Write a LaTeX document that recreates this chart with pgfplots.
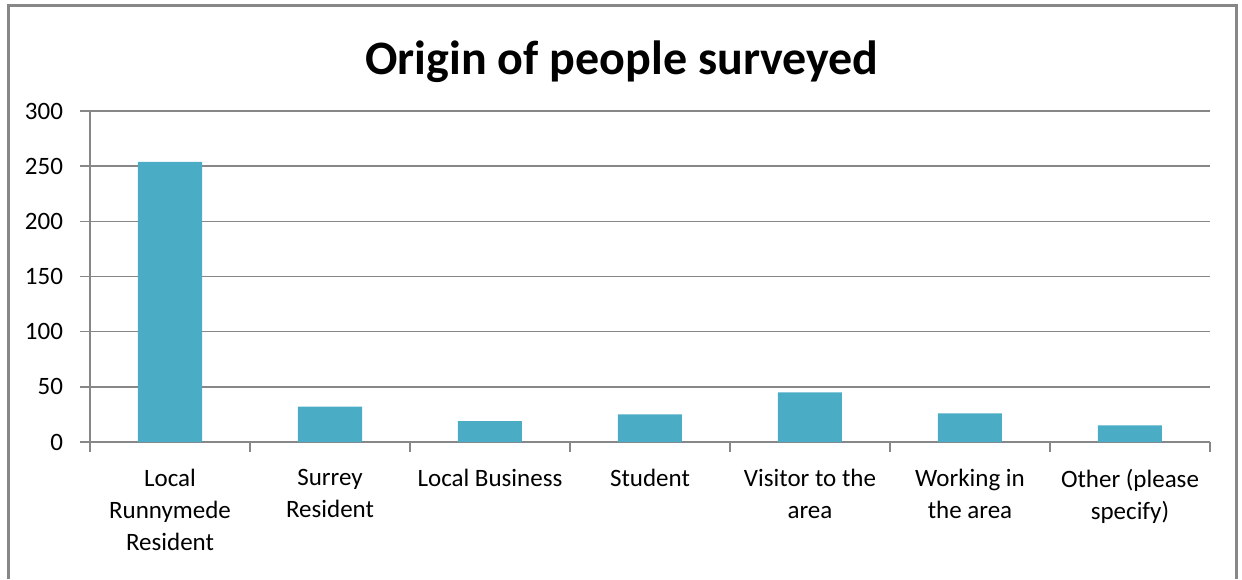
\documentclass[border=0pt]{standalone}
\usepackage{fontspec}
\setmainfont{Carlito}
\usepackage{pgfplots}
\pgfplotsset{compat=1.18}
\definecolor{barc}{HTML}{4BACC6}
\definecolor{gr}{HTML}{878787}
\begin{document}
\begin{tikzpicture}
\path[use as bounding box] (0,0) rectangle (621pt,289.5pt);
\draw[gr, line width=1.5pt] (4.25pt,0) -- (4.25pt,286.5pt) -- (618.25pt,286.5pt) -- (618.25pt,0);
\node[font=\fontsize{24}{28}\selectfont\bfseries, anchor=base] at (311pt,252pt) {Origin of people surveyed};
\begin{axis}[
  at={(45pt,68.5pt)}, anchor=south west,
  scale only axis, width=560pt, height=165.5pt,
  xmin=-0.5, xmax=6.5, ymin=0, ymax=300,
  ytick={0,50,...,300},
  xtick={-0.5,0.5,...,6.5}, xticklabels={},
  extra x ticks={0,1,2,3,4,5,6},
  extra x tick labels={Local\\Runnymede\\Resident, Surrey\\Resident, Local Business, Student, Visitor to the\\area, Working in\\the area, Other (please\\specify)},
  extra x tick style={major tick length=0pt, grid=none},
  axis lines*=left,
  axis line style={gr, line width=0.7pt},
  tick style={gr, line width=0.7pt},
  major tick length=5pt,
  tick align=outside,
  ymajorgrids, grid style={gr, line width=0.7pt},
  ticklabel style={font=\fontsize{12.5}{16}\selectfont, text=black},
  xticklabel style={align=center, yshift=-10pt},
  yticklabel style={xshift=-5pt},
  /pgf/number format/assume math mode=true,
]
\addplot[ybar, bar width=32pt, fill=barc, draw=none] coordinates {(0,254)(1,32)(2,19)(3,25)(4,45)(5,26)(6,15)};
\end{axis}
\end{tikzpicture}
\end{document}
